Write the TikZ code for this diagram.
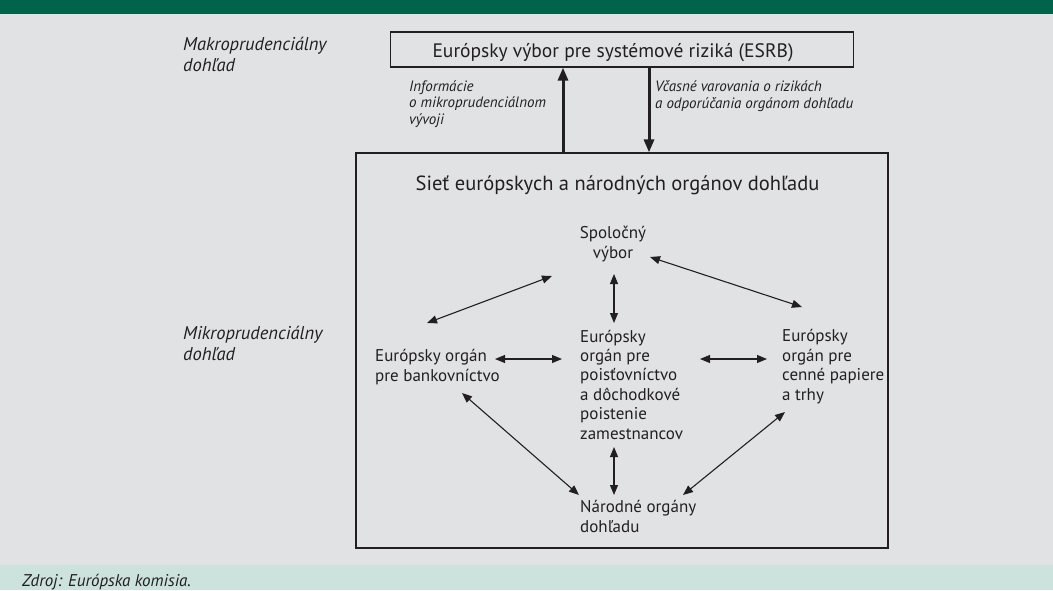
\documentclass[tikz,border=0pt]{standalone}
\usepackage{fontspec}
\setmainfont{PT Sans}
\usepackage{xcolor}
\usepackage{tikz}
\usetikzlibrary{arrows, arrows.meta}
\definecolor{headgreen}{HTML}{00634A}
\definecolor{panelgrey}{HTML}{E1E2E4}
\definecolor{footgreen}{HTML}{CBE3DC}
\definecolor{ink}{HTML}{231F20}
\tikzstyle{org} = [inner sep=0pt, align=left, text=ink, font=\fontsize{17}{19.4}\selectfont]
\tikzstyle{side} = [inner sep=0pt, align=left, text=ink, font=\fontsize{18.5}{21}\selectfont\itshape]
\tikzstyle{note} = [inner sep=0pt, align=left, text=ink, font=\fontsize{15}{16.3}\selectfont\itshape]
\tikzstyle{frame} = [draw=ink, line width=1.2pt, inner sep=0pt]
\tikzstyle{flow} = [draw=ink, line width=3pt, -{Triangle[length=13pt,width=10pt]}]
\tikzstyle{link} = [draw=ink, line width=1.1pt, {Triangle[length=10pt,width=8pt]}-{Triangle[length=10pt,width=8pt]}]

\begin{document}
\begin{tikzpicture}[x=1pt,y=-1pt]
	\useasboundingbox (0,0) rectangle (1053,590);
	\clip (0,0) rectangle (1053,590);

	% Background: green bar on top, grey panel, source strip
	\fill[panelgrey] (0,0) rectangle (1053,590);
	\fill[headgreen] (0,0) rectangle (1053,14);
	\fill[footgreen] (0,565) rectangle (1053,590);
	\node[note, font=\fontsize{17}{19}\selectfont\itshape, anchor=base west] (zdroj) at (22,586) {Zdroj: Európska komisia.};

	% Levels of supervision (base = last line):
	\node[side, anchor=base west] (makro) at (183,71) {Makroprudenciálny\\dohľad};
	\node[side, anchor=base west] (mikro) at (183,360) {Mikroprudenciálny\\dohľad};

	% ESRB on top, network of authorities below
	\node[frame, minimum width=463pt, minimum height=35pt] (esrb) at (622,49.5) {};
	\node[text=ink, font=\fontsize{19.5}{22}\selectfont, anchor=base] (esrbtxt) at (613,57) {Európsky výbor pre systémové riziká (ESRB)};
	\node[frame, minimum width=532pt, minimum height=395pt] (net) at (622,350.5) {};
	\node[text=ink, font=\fontsize{20.5}{22}\selectfont, anchor=base] (nettxt) at (617.5,190) {Sieť európskych a národných orgánov dohľadu};

	\draw[flow] ([xshift=-59pt]net.north) -- ([xshift=-59pt]esrb.south);
	\draw[flow] ([xshift=27pt]esrb.south) -- ([xshift=27pt]net.north);
	\node[note, anchor=base west] (info) at (409,124) {Informácie\\o mikroprudenciálnom\\vývoji};
	\node[note, anchor=base west] (varov) at (655,108) {Včasné varovania o rizikách\\a odporúčania orgánom dohľadu};

	% Authorities:
	\node[org, align=center, anchor=base] (spol) at (613,258) {Spoločný\\výbor};
	\node[org, anchor=base west] (bank) at (375,381) {Európsky orgán\\pre bankovníctvo};
	\node[org, anchor=base west] (eiopa) at (580,439) {Európsky\\orgán pre\\poisťovníctvo\\a dôchodkové\\poistenie\\zamestnancov};
	\node[org, anchor=base west] (esma) at (782,400) {Európsky\\orgán pre\\cenné papiere\\a trhy};
	\node[org, anchor=base west] (narod) at (580,532) {Národné orgány\\dohľadu};

	% Links between them
	\draw[link] ([shift={(-61,18)}]spol.base) -- ([shift={(52,-58)}]bank.base west);
	\draw[link] ([shift={(37,-1)}]spol.base) -- ([shift={(20,-93)}]esma.base west);
	\draw[link] ([shift={(1,16)}]spol.base) -- ([shift={(34,-116)}]eiopa.base west);
	\draw[link] ([shift={(120,-22)}]bank.base west) -- ([shift={(-18,-80)}]eiopa.base west);
	\draw[link] ([shift={(120,-80)}]eiopa.base west) -- ([shift={(-15,-41)}]esma.base west);
	\draw[link] ([shift={(87,12)}]bank.base west) -- ([shift={(-1,-37)}]narod.base west);
	\draw[link] ([shift={(3,12)}]esma.base west) -- ([shift={(103,-37)}]narod.base west);
	\draw[link] ([shift={(34,8)}]eiopa.base west) -- ([shift={(34,-37)}]narod.base west);
\end{tikzpicture}
\end{document}
